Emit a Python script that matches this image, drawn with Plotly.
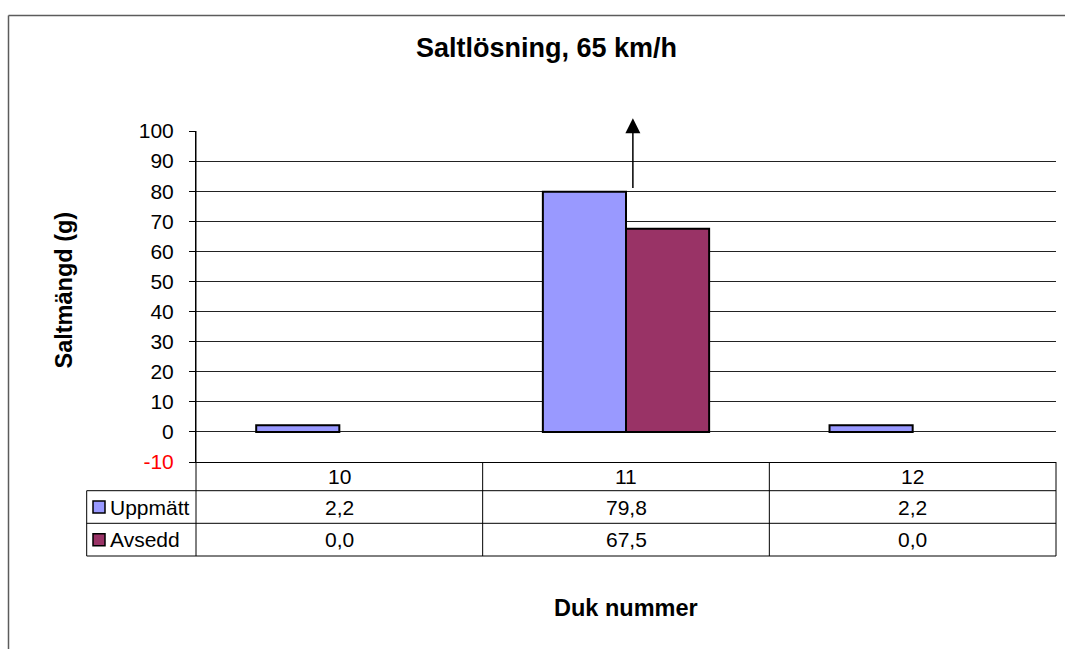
import plotly.graph_objects as go

# ---- data ----
categories = ["10", "11", "12"]
uppmatt = [2.2, 79.8, 2.2]
avsedd = [0.0, 67.5, 0.0]
series_names = ["Uppmätt", "Avsedd"]
series_colors = ["#9999FF", "#993366"]
y_ticks = [-10, 0, 10, 20, 30, 40, 50, 60, 70, 80, 90, 100]
y_range = [-10, 100]
title_text = "Saltlösning, 65 km/h"
x_title = "Duk nummer"
y_title = "Saltmängd (g)"
arrow_top = 104.2  # arrow indicates value goes beyond the axis

# ---- layout geometry (pixels) ----
W, H = 1065, 649
L, R, T, B = 196, 9, 131, 187
PW, PH = W - L - R, H - T - B
FONT = "Arial, 'Liberation Sans', sans-serif"


def px(xp):
    return (xp - L) / PW


def py(yp):
    return (H - B - yp) / PH


def fmt(v):
    return f"{v:.1f}".replace(".", ",")


fig = go.Figure()
for name, vals, col in zip(series_names, [uppmatt, avsedd], series_colors):
    fig.add_trace(go.Bar(
        x=list(range(len(categories))), y=vals, name=name,
        marker=dict(color=col, line=dict(color="black", width=[2 if v else 0 for v in vals])),
        showlegend=False,
    ))

ticktext = [f'<span style="color:red">{v}</span>' if v < 0 else str(v) for v in y_ticks]

shapes = []
line_style = dict(color="black", width=1)
# table geometry
row_edges_px = [H - B, 490.7, 523.3, 556.0]
row_edges = [py(v) for v in row_edges_px]
table_left = px(86.7)
ncat = len(categories)
col_edges = [k / ncat for k in range(ncat + 1)]

# horizontal table lines (below header)
for ye in row_edges[1:]:
    shapes.append(dict(type="line", xref="paper", yref="paper", x0=table_left, x1=1,
                       y0=ye, y1=ye, line=line_style))
# vertical lines
shapes.append(dict(type="line", xref="paper", yref="paper", x0=table_left, x1=table_left,
                   y0=row_edges[1], y1=row_edges[3], line=line_style))
shapes.append(dict(type="line", xref="paper", yref="paper", x0=0, x1=0,
                   y0=row_edges[3], y1=1, line=line_style))
for ce in col_edges[1:]:
    shapes.append(dict(type="line", xref="paper", yref="paper", x0=ce, x1=ce,
                       y0=row_edges[3], y1=0, line=line_style))

# outer chart border (top and left visible)
border = dict(color="#5c5c5c", width=1.5)
shapes.append(dict(type="line", xref="paper", yref="paper", x0=px(8.5), x1=px(1075),
                   y0=py(15.5), y1=py(15.5), line=border))
shapes.append(dict(type="line", xref="paper", yref="paper", x0=px(8.5), x1=px(8.5),
                   y0=py(15.5), y1=py(660), line=border))

annotations = []
cell_font = dict(size=21, color="black", family=FONT)
# header row: category labels
header_c = (row_edges_px[0] + row_edges_px[1]) / 2
for j, c in enumerate(categories):
    annotations.append(dict(text=c, xref="x", yref="paper", x=j, y=py(header_c),
                            xanchor="center", yanchor="middle", showarrow=False, font=cell_font))
# row labels + legend keys
for i, (name, col) in enumerate(zip(series_names, series_colors)):
    yc_px = (row_edges_px[i + 1] + row_edges_px[i + 2]) / 2
    shapes.append(dict(type="rect", xref="paper", yref="paper",
                       x0=px(93), x1=px(105), y0=py(yc_px - 6), y1=py(yc_px + 6),
                       fillcolor=col, line=dict(color="black", width=1.5)))
    annotations.append(dict(text=name, xref="paper", yref="paper", x=px(108), y=py(yc_px),
                            xanchor="left", yanchor="middle", showarrow=False, font=cell_font))
    vals = [uppmatt, avsedd][i]
    for j, v in enumerate(vals):
        annotations.append(dict(text=fmt(v), xref="x", yref="paper", x=j, y=py(yc_px),
                                xanchor="center", yanchor="middle", showarrow=False,
                                font=cell_font))

# arrow above the tall bar
imax = uppmatt.index(max(uppmatt))
annotations.append(dict(text="", x=imax + 0.024, y=arrow_top, xref="x", yref="y",
                        ax=imax + 0.024, ay=max(uppmatt) + 0.8, axref="x", ayref="y",
                        showarrow=True, arrowhead=2, arrowsize=2, arrowwidth=1.5,
                        arrowcolor="black", standoff=0, startstandoff=0))

# axis titles
annotations.append(dict(text=y_title, xref="paper", yref="paper", x=px(63), y=py(290.5),
                        textangle=-90, showarrow=False, xanchor="center", yanchor="middle",
                        font=dict(size=23.5, color="black", family=FONT, weight="bold")))
annotations.append(dict(text=x_title, xref="paper", yref="paper", x=px(626), y=py(608),
                        showarrow=False, xanchor="center", yanchor="middle",
                        font=dict(size=23.5, color="black", family=FONT, weight="bold")))

fig.update_layout(
    width=W, height=H,
    margin=dict(l=L, r=R, t=T, b=B, pad=0),
    paper_bgcolor="white", plot_bgcolor="white",
    barmode="group", bargap=0.42, bargroupgap=0,
    title=dict(text=title_text, x=546.5 / W, y=1 - 48 / H, xref="container", yref="container",
               xanchor="center", yanchor="middle",
               font=dict(size=27, color="black", family=FONT, weight="bold")),
    font=dict(family=FONT, size=21, color="black"),
    shapes=shapes, annotations=annotations,
    xaxis=dict(type="linear", range=[-0.5, ncat - 0.5], tickmode="array",
               tickvals=list(range(ncat)), ticktext=categories, showgrid=False,
               showticklabels=False,
               zeroline=False, showline=True, linecolor="black", linewidth=1, ticks=""),
    yaxis=dict(range=y_range, tickmode="array", tickvals=y_ticks, ticktext=ticktext,
               showgrid=True, gridcolor="#222222", gridwidth=1, zeroline=False,
               showline=True, linecolor="black", linewidth=1,
               ticks="outside", ticklen=6, tickcolor="black", tickwidth=1,
               ticklabelstandoff=11,
               tickfont=dict(size=21, color="black", family=FONT)),
)

fig.write_html("out.html", config={"displayModeBar": False},
               post_script="document.body.style.margin='0';")
